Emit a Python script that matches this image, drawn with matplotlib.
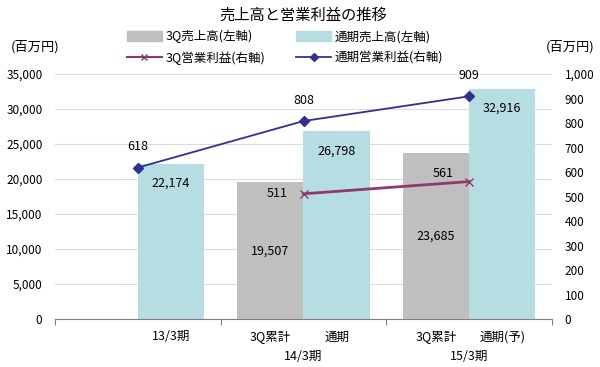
import matplotlib.pyplot as plt
import matplotlib.transforms as mtransforms
from matplotlib.patches import Patch
from matplotlib.lines import Line2D
import numpy as np

plt.rcParams["font.family"] = ["Noto Sans CJK JP", "DejaVu Sans"]
plt.rcParams["font.size"] = 8.5

periods = ["13/3期", "14/3期", "15/3期"]
sub_labels = [[None, "通期"], ["3Q累計", "通期"], ["3Q累計", "通期(予)"]]
sales_3q = [np.nan, 19507, 23685]
sales_full = [22174, 26798, 32916]
op_3q = [np.nan, 511, 561]
op_full = [618, 808, 909]

c_gray = "#BFBFBF"
c_blue = "#B6DDE1"
c_navy = "#2E3192"
c_maroon = "#8E3A6B"

fig = plt.figure(figsize=(6, 3.67), dpi=100)
ax = fig.add_axes([55 / 600, 48 / 367, 497 / 600, 245 / 367])
ax2 = ax.twinx()

x = np.arange(len(periods))
w = 0.4
ax.bar(x - w / 2, sales_3q, w, color=c_gray, zorder=2)
ax.bar(x + w / 2, sales_full, w, color=c_blue, zorder=2)

ax.set_xlim(-0.5, 2.5)
ax.set_ylim(0, 35000)
ax.set_yticks(np.arange(0, 35001, 5000))
ax.set_yticklabels([f"{v:,}" for v in range(0, 35001, 5000)])
ax.grid(axis="y", color="#DCDCDC", lw=0.8, zorder=0)
ax.set_axisbelow(True)
for s in ["top", "left", "right"]:
    ax.spines[s].set_visible(False)
ax.spines["bottom"].set_color("#808080")
ax.set_xticks([-0.5, 0.5, 1.5, 2.5])
ax.set_xticklabels([])
ax.tick_params(axis="x", length=4, color="#808080")
ax.tick_params(axis="y", length=0, pad=9, labelsize=8.5)

ax2.plot(x, op_full, color=c_navy, marker="D", ms=5, lw=1.3, zorder=3)
ax2.plot(x, op_3q, color=c_maroon, marker="x", ms=6, mew=1, lw=2, zorder=3)
ax2.set_ylim(0, 1000)
ax2.set_yticks(np.arange(0, 1001, 100))
ax2.set_yticklabels([f"{v:,}" for v in range(0, 1001, 100)])
ax2.tick_params(axis="y", length=0, pad=9, labelsize=8.5)
for s in ["top", "left", "right", "bottom"]:
    ax2.spines[s].set_visible(False)

# bar value labels
for xi, v in zip(x, sales_full):
    ax.annotate(f"{v:,}", (xi + w / 2, v), xytext=(0, -14), textcoords="offset points",
                ha="center", va="center", fontsize=9)
for xi, v in zip(x, sales_3q):
    if not np.isnan(v):
        ax.text(xi - w / 2, v / 2, f"{v:,}", ha="center", va="center", fontsize=9)

# line value labels
for xi, v in zip(x, op_full):
    ax2.annotate(f"{v:,}", (xi, v), xytext=(0, 15), textcoords="offset points",
                 ha="center", va="center", fontsize=9)
offsets_3q = [None, (-19, 0), (-19, 6)]
for xi, v, off in zip(x, op_3q, offsets_3q):
    if not np.isnan(v):
        ax2.annotate(f"{v:,}", (xi, v), xytext=off, textcoords="offset points",
                     ha="center", va="center", fontsize=9)

# category labels
trans = mtransforms.blended_transform_factory(ax.transData, fig.transFigure)
for xi, period, subs in zip(x, periods, sub_labels):
    if subs[0] is None:
        ax.text(xi + w / 2, 1 - 337 / 367, period, transform=trans,
                ha="center", va="center", fontsize=9)
        continue
    ax.text(xi - w / 2, 1 - 337 / 367, subs[0], transform=trans,
            ha="center", va="center", fontsize=9)
    ax.text(xi + w / 2, 1 - 337 / 367, subs[1], transform=trans,
            ha="center", va="center", fontsize=9)
    ax.text(xi, 1 - 357 / 367, period, transform=trans,
            ha="center", va="center", fontsize=9)

fig.text(0.505, 1 - 15 / 367, "売上高と営業利益の推移", ha="center", va="center", fontsize=11)
fig.text(35 / 600, 1 - 47 / 367, "(百万円)", ha="center", va="center", fontsize=9.5)
fig.text(570 / 600, 1 - 47 / 367, "(百万円)", ha="center", va="center", fontsize=9.5)

handles = [
    Patch(color=c_gray, label="3Q売上高(左軸)"),
    Line2D([], [], color=c_maroon, marker="x", ms=5, lw=1.5, label="3Q営業利益(右軸)"),
    Patch(color=c_blue, label="通期売上高(左軸)"),
    Line2D([], [], color=c_navy, marker="D", ms=4, lw=1.3, label="通期営業利益(右軸)"),
]
fig.legend(handles=handles, ncol=2, loc="center", bbox_to_anchor=(0.475, 1 - 47.5 / 367),
           frameon=False, fontsize=9, handlelength=2.8, handleheight=0.9,
           columnspacing=2.5, labelspacing=0.65, handletextpad=0.3)

fig.savefig("out.png", dpi=100)
